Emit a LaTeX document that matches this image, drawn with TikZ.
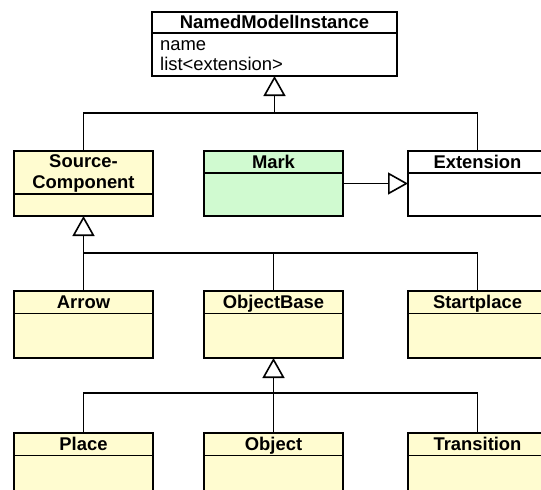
\documentclass[tikz,border=0pt]{standalone}
\usepackage{fontspec}
\setmainfont{Liberation Sans}
\usetikzlibrary{arrows.meta}
\definecolor{clsyellow}{RGB}{255,252,208}
\definecolor{clsgreen}{RGB}{208,250,208}
\tikzset{
  ln/.style={line width=1.6pt, draw=black},
  clsbox/.style={ln, rectangle, inner sep=0pt, outer sep=0pt},
  cltitle/.style={font=\fontsize{18.4}{21}\selectfont\bfseries, inner sep=0pt, text height=13pt, text depth=0pt, align=center},
  cltitletwo/.style={font=\fontsize{18.4}{21}\selectfont\bfseries, inner sep=0pt, align=center},
  clattr/.style={font=\fontsize{18.4}{21}\selectfont, inner sep=0pt, anchor=base west},
  gen/.style={ln, -{Triangle[open, length=20pt, width=22pt]}}
}
% #1 name, #2 left, #3 top, #4 width, #5 height, #6 header height, #7 fill, #8 title
\newcommand\umlcls[8]{%
  \node[clsbox, fill=#7, minimum width=#4pt, minimum height=#5pt, anchor=north west] (#1) at (#2,#3) {};
  \draw[ln] ([yshift=-#6pt]#1.north west) -- ([yshift=-#6pt]#1.north east);
  \node[cltitle] (#1-t) at ([yshift=-0.5*#6pt+0.5pt]#1.north) {#8};
}
\begin{document}
\begin{tikzpicture}[x=1pt,y=-1pt]
\clip (0,0) rectangle (541,490);
\fill[white] (0,0) rectangle (541,490);
% top
\umlcls{nmi}{152}{12}{245}{64}{21}{white}{NamedModelInstance}
\node[clattr] (nmi-a1) at (160,50) {name};
\node[clattr] (nmi-a2) at (160,70) {list<extension>};
% row 2
\node[clsbox, fill=clsyellow, minimum width=139pt, minimum height=65pt, anchor=north west] (sc) at (14,151) {};
\draw[ln] ([yshift=-43pt]sc.north west) -- ([yshift=-43pt]sc.north east);
\node[cltitletwo, anchor=base] (sc-t1) at (sc.north |- 0,167) {Source-};
\node[cltitletwo, anchor=base] (sc-t2) at (sc.north |- 0,188) {Component};
\umlcls{mark}{204}{151}{139}{65}{22}{clsgreen}{Mark}
\umlcls{ext}{408}{151}{139}{65}{22}{white}{Extension}
% row 3
\umlcls{arr}{14}{291}{139}{67}{22.5}{clsyellow}{Arrow}
\umlcls{ob}{204}{291}{139}{67}{22.5}{clsyellow}{ObjectBase}
\umlcls{sp}{408}{291}{139}{67}{22.5}{clsyellow}{Startplace}
% row 4
\umlcls{pl}{14}{433}{139}{67}{22.5}{clsyellow}{Place}
\umlcls{obj}{204}{433}{139}{67}{22.5}{clsyellow}{Object}
\umlcls{tr}{408}{433}{139}{67}{22.5}{clsyellow}{Transition}
% junctions
\coordinate (j1) at (nmi.south |- 0,113);
\coordinate (j2) at (sc.south |- 0,253);
\coordinate (j3) at (ob.south |- 0,393);
% generalisations level 1
\draw[ln] (sc.north) |- (j1) -| (ext.north);
\draw[gen] (j1) -- (nmi.south);
% Mark -> Extension
\draw[gen] (mark.east) -- (ext.west);
% level 2
\draw[ln] (arr.north) -- (j2) -| (sp.north);
\draw[ln] (ob.north) -- (ob.north |- j2);
\draw[gen] (j2) -- (sc.south);
% level 3
\draw[ln] (pl.north) |- (j3) -| (tr.north);
\draw[ln] (obj.north) -- (j3);
\draw[gen] (j3) -- (ob.south);
\end{tikzpicture}
\end{document}
